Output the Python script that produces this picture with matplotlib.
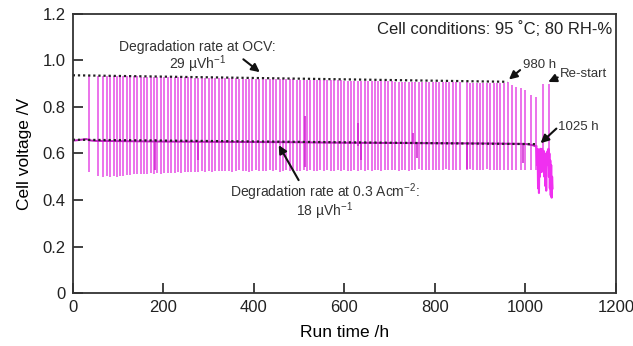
import matplotlib.pyplot as plt
import numpy as np

plt.rcParams['font.family'] = ['Liberation Sans', 'DejaVu Sans']
plt.rcParams['mathtext.fontset'] = 'custom'
plt.rcParams['mathtext.rm'] = 'Liberation Sans'
plt.rcParams['mathtext.it'] = 'Liberation Sans:italic'

# OCV check spikes (time in h, top = OCV, bottom = undershoot)
spike_t = [35, 55, 67, 75, 82, 90, 97, 105, 112, 120, 127, 135, 142, 150, 157, 165, 172, 180,
           187, 195, 202, 210, 217, 225, 232, 240, 247, 255, 262, 270, 277, 285, 292, 300,
           307, 315, 322, 330, 337, 345, 352, 360, 367, 375, 382, 390, 397, 405, 412, 420,
           427, 435, 442, 450, 457, 465, 472, 480, 487, 495, 502, 510, 517, 525, 532, 540,
           547, 555, 562, 570, 577, 585, 592, 600, 607, 615, 622, 630, 637, 645, 652, 660,
           667, 675, 682, 690, 697, 705, 712, 720, 727, 735, 742, 750, 757, 765, 772, 780,
           787, 795, 802, 810, 817, 825, 832, 840, 847, 855, 870, 877, 885, 892, 900,
           907, 915, 922, 930, 937, 945, 952, 962, 970, 979, 990, 1000, 1012, 1024, 1040, 1052]
spike_top = [0.934, 0.934, 0.933, 0.933, 0.933, 0.933, 0.932, 0.932, 0.932, 0.932, 0.931, 0.931,
             0.931, 0.930, 0.930, 0.930, 0.930, 0.929, 0.929, 0.929, 0.929, 0.928, 0.928, 0.928,
             0.927, 0.927, 0.927, 0.927, 0.926, 0.926, 0.926, 0.925, 0.925, 0.925, 0.925, 0.924,
             0.924, 0.924, 0.923, 0.923, 0.923, 0.923, 0.922, 0.922, 0.922, 0.921, 0.921, 0.921,
             0.921, 0.920, 0.920, 0.920, 0.919, 0.919, 0.919, 0.919, 0.918, 0.918, 0.918, 0.917,
             0.917, 0.917, 0.917, 0.916, 0.916, 0.916, 0.915, 0.915, 0.915, 0.915, 0.914, 0.914,
             0.914, 0.913, 0.913, 0.913, 0.913, 0.912, 0.912, 0.912, 0.912, 0.911, 0.911, 0.911,
             0.910, 0.910, 0.910, 0.910, 0.909, 0.909, 0.909, 0.909, 0.908, 0.908, 0.908, 0.908,
             0.907, 0.907, 0.907, 0.907, 0.906, 0.906, 0.906, 0.906, 0.905, 0.905, 0.905, 0.905,
             0.905, 0.904, 0.904, 0.904, 0.904, 0.904, 0.903, 0.903, 0.903, 0.903, 0.903, 0.903,
             0.907, 0.893, 0.886, 0.880, 0.871, 0.850, 0.842, 0.900, 0.900]
spike_bot = [0.520, 0.505, 0.497, 0.505, 0.500, 0.503, 0.500, 0.505, 0.503, 0.507, 0.508, 0.510,
             0.510, 0.512, 0.510, 0.513, 0.515, 0.512, 0.515, 0.513, 0.516, 0.515, 0.518, 0.516,
             0.520, 0.518, 0.520, 0.522, 0.520, 0.522, 0.520, 0.523, 0.521, 0.524, 0.522, 0.525,
             0.523, 0.525, 0.524, 0.526, 0.522, 0.525, 0.527, 0.524, 0.526, 0.522, 0.525, 0.527,
             0.524, 0.526, 0.525, 0.528, 0.525, 0.527, 0.522, 0.526, 0.528, 0.525, 0.527, 0.524,
             0.526, 0.528, 0.525, 0.527, 0.524, 0.526, 0.528, 0.525, 0.527, 0.523, 0.526, 0.528,
             0.525, 0.527, 0.524, 0.526, 0.528, 0.525, 0.530, 0.526, 0.528, 0.524, 0.527, 0.529,
             0.526, 0.528, 0.530, 0.527, 0.529, 0.526, 0.530, 0.528, 0.525, 0.530, 0.528, 0.532,
             0.529, 0.531, 0.528, 0.530, 0.527, 0.531, 0.529, 0.532, 0.528, 0.530, 0.531, 0.530,
             0.529, 0.532, 0.530, 0.528, 0.531, 0.529, 0.532, 0.530, 0.528, 0.531, 0.529, 0.529,
             0.528, 0.530, 0.527, 0.529, 0.531, 0.528, 0.530, 0.520, 0.525]

# cell voltage under load (0.3 A/cm2) between spikes
base_t = [0, 15, 30, 38, 50, 100, 200, 300, 400, 500, 600, 700, 800, 900, 1000, 1015, 1024]
base_v = [0.655, 0.658, 0.662, 0.656, 0.654, 0.653, 0.651, 0.650, 0.649, 0.648, 0.646, 0.645,
          0.644, 0.643, 0.641, 0.636, 0.630]

# partial dips / small excursions
dip_t = [181, 276, 512, 630, 636, 752, 760, 870, 995]
dip_lo = [0.53, 0.57, 0.54, 0.63, 0.57, 0.64, 0.58, 0.535, 0.56]
dip_hi = [0.66, 0.65, 0.76, 0.73, 0.65, 0.69, 0.65, 0.65, 0.64]

# unstable region after 1025 h
mess_t = [1024, 1026, 1027, 1028, 1029, 1030, 1031, 1032, 1033, 1034, 1035, 1036, 1037, 1038,
          1039, 1040, 1041, 1042, 1043, 1044, 1045, 1046, 1047, 1048, 1049, 1050, 1051, 1052,
          1053, 1054, 1055, 1056, 1057, 1058, 1059, 1060]
mess_v = [0.63, 0.55, 0.62, 0.45, 0.60, 0.43, 0.61, 0.50, 0.62, 0.55, 0.60, 0.52, 0.62, 0.56,
          0.60, 0.53, 0.61, 0.50, 0.60, 0.46, 0.58, 0.44, 0.60, 0.55, 0.61, 0.58, 0.62, 0.50,
          0.60, 0.45, 0.57, 0.42, 0.55, 0.41, 0.50, 0.45]

# linear degradation fits
ocv_fit_t = [0, 960]
ocv_fit_v = [0.936, 0.908]
load_fit_t = [0, 1025]
load_fit_v = [0.659, 0.640]

fig = plt.figure(figsize=(6.33, 3.46), dpi=100)
ax = fig.add_axes([0.115, 0.153, 0.858, 0.807])

mag = '#e85ae8'
ax.vlines(spike_t, spike_bot, spike_top, color=mag, lw=1.2)
ax.vlines(dip_t, dip_lo, dip_hi, color='#d020d0', lw=1.1)
ax.plot(base_t, base_v, color='#c020c0', lw=1.4)
ax.plot(mess_t, mess_v, color='#f030f0', lw=1.5)
ax.plot(ocv_fit_t, ocv_fit_v, color='#222222', ls=(0, (1, 1.3)), lw=1.6)
ax.plot(load_fit_t, load_fit_v, color='#222222', ls=(0, (1, 1.3)), lw=1.6)

ax.set_xlim(0, 1200)
ax.set_ylim(0, 1.2)
ax.set_xticks([0, 200, 400, 600, 800, 1000, 1200])
ax.set_yticks([0, 0.2, 0.4, 0.6, 0.8, 1.0, 1.2])
ax.set_yticklabels(['0', '0.2', '0.4', '0.6', '0.8', '1.0', '1.2'])
ax.tick_params(direction='in', length=7, width=1.3, labelsize=12, colors='#333333',
               labelcolor='#222222', pad=5)
for s in ax.spines.values():
    s.set_linewidth(1.3)
    s.set_color('#333333')
ax.set_xlabel('Run time /h', fontsize=12.5, labelpad=7)
ax.set_ylabel('Cell voltage /V', fontsize=12.5, labelpad=8)

tk = dict(fontsize=10, color='#333333', ha='center', va='center')
sm = dict(fontsize=9.5, color='#333333', ha='left', va='center')
arr = dict(arrowstyle='-|>', color='#111111', lw=1.5, mutation_scale=12)

ax.text(276, 1.058, 'Degradation rate at OCV:', **tk)
ax.text(276, 0.985, '29 µVh$^{-1}$', **tk)
ax.annotate('', xy=(418, 0.942), xytext=(372, 1.012), arrowprops=arr)

ax.text(557, 0.434, 'Degradation rate at 0.3 Acm$^{-2}$:', **tk)
ax.text(557, 0.350, '18 µVh$^{-1}$', **tk)
ax.annotate('', xy=(452, 0.646), xytext=(502, 0.475), arrowprops=arr)

ax.text(995, 0.978, '980 h', **sm)
ax.annotate('', xy=(959, 0.91), xytext=(993, 0.966), arrowprops=arr)

ax.text(1077, 0.943, 'Re-start', **sm)
ax.annotate('', xy=(1045, 0.902), xytext=(1077, 0.932), arrowprops=arr)

ax.text(1073, 0.714, '1025 h', **sm)
ax.annotate('', xy=(1029, 0.636), xytext=(1073, 0.715), arrowprops=arr)

ax.text(1193, 1.135, 'Cell conditions: 95 ˚C; 80 RH-%', ha='right', va='center',
        fontsize=12, color='#222222')

fig.savefig('out.png', dpi=100)
